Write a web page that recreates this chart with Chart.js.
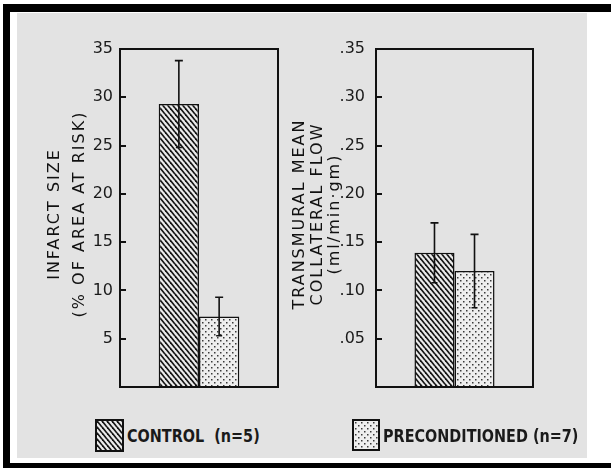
<!DOCTYPE html>
<html>
<head>
<meta charset="utf-8">
<script src="https://cdn.jsdelivr.net/npm/chart.js@4"></script>
<style>
  html, body { margin: 0; padding: 0; background: #fff; }
  #page { position: relative; width: 611px; height: 468px; overflow: hidden; }
  .edge { position: absolute; background: #000; }
  #panel { position: absolute; left: 17px; top: 13px; width: 570px; height: 445px; background: #e3e3e3; }
  canvas.chart { position: absolute; top: 0; }
  .key { position: absolute; top: 420px; display: flex; align-items: center; height: 30px; }
  .key canvas { box-sizing: border-box; border: 2px solid #111; margin-right: 3px; }
  .key span { display: inline-block; transform: scaleX(0.8); transform-origin: left center;
              font-family: 'DejaVu Sans', sans-serif; font-weight: bold; font-size: 18px;
              color: #1a1a1a; white-space: pre; }
</style>
</head>
<body>
<div id="page">
  <div class="edge" style="left:3px; top:4px; width:608px; height:8px"></div>
  <div class="edge" style="left:3px; top:4px; width:7px; height:464px"></div>
  <div class="edge" style="left:3px; top:463px; width:608px; height:5px"></div>
  <div id="panel"></div>
  <canvas id="infarct" class="chart" width="300" height="400" style="left:0"></canvas>
  <canvas id="flow" class="chart" width="341" height="400" style="left:270px"></canvas>
  <div class="key" style="left:95px"><canvas id="sw0" width="25" height="29"></canvas><span id="k0"></span></div>
  <div class="key" style="left:352px"><canvas id="sw1" width="24" height="28"></canvas><span id="k1"></span></div>
</div>
<script>
// groups and values
const groups = ["CONTROL  (n=5)", "PRECONDITIONED (n=7)"];
const infarctMean = [29.3, 7.3];
const infarctErr = [4.5, 2.0];
const flowMean = [0.139, 0.12];
const flowErr = [0.031, 0.038];

const infarctTicks = [5, 10, 15, 20, 25, 30, 35];
const infarctTickLabels = ["5", "10", "15", "20", "25", "30", "35"];
const flowTicks = [0.05, 0.1, 0.15, 0.2, 0.25, 0.3, 0.35];
const flowTickLabels = [".05", ".10", ".15", ".20", ".25", ".30", ".35"];

const infarctTitle = ["INFARCT SIZE", "(% OF AREA AT RISK)"];
const flowTitle = ["TRANSMURAL MEAN", "COLLATERAL FLOW", "(ml/min\u00b7gm)"];

// ---------- fill patterns ----------
function hatchPattern() {
  const c = document.createElement("canvas");
  c.width = 5; c.height = 6;
  const x = c.getContext("2d");
  x.fillStyle = "#ececec";
  x.fillRect(0, 0, 5, 6);
  x.strokeStyle = "#151515";
  x.lineWidth = 1.7;
  [[0, 0], [-5, 0], [5, 0], [0, -6], [0, 6]].forEach(([dx, dy]) => {
    x.beginPath();
    x.moveTo(dx, dy);
    x.lineTo(dx + 5, dy + 6);
    x.stroke();
  });
  return x.createPattern(c, "repeat");
}

function dotPattern() {
  const c = document.createElement("canvas");
  c.width = 6; c.height = 6;
  const x = c.getContext("2d");
  x.fillStyle = "#eeeeee";
  x.fillRect(0, 0, 6, 6);
  x.fillStyle = "#3a3a3a";
  x.fillRect(1, 1, 1.5, 1.5);
  x.fillRect(4, 4, 1.5, 1.5);
  return x.createPattern(c, "repeat");
}

const fills = [hatchPattern(), dotPattern()];

// ---------- frame, inward ticks, error bars, rotated titles ----------
const framePlugin = {
  id: "frame",
  afterDatasetsDraw(chart, args, opts) {
    const { ctx, chartArea: a, scales: { y } } = chart;
    ctx.save();
    ctx.strokeStyle = "#111";
    ctx.lineWidth = 2;
    ctx.strokeRect(a.left, a.top, a.right - a.left, a.bottom - a.top);

    y.ticks.forEach((t) => {
      if (!t.value) return;
      const py = Math.round(y.getPixelForValue(t.value));
      ctx.beginPath();
      ctx.moveTo(a.left, py);
      ctx.lineTo(a.left + 6, py);
      ctx.stroke();
    });

    ctx.lineWidth = 1.6;
    chart.data.datasets.forEach((ds, i) => {
      chart.getDatasetMeta(i).data.forEach((bar, j) => {
        const v = ds.data[j], e = ds.err[j];
        const hi = y.getPixelForValue(v + e), lo = y.getPixelForValue(v - e);
        ctx.beginPath();
        ctx.moveTo(bar.x, hi); ctx.lineTo(bar.x, lo);
        ctx.moveTo(bar.x - 4, hi); ctx.lineTo(bar.x + 4, hi);
        ctx.moveTo(bar.x - 3, lo); ctx.lineTo(bar.x + 3, lo);
        ctx.stroke();
      });
    });

    ctx.fillStyle = "#111";
    ctx.font = "16px 'DejaVu Sans'";
    ctx.letterSpacing = opts.spacing;
    ctx.textAlign = "center";
    ctx.textBaseline = "middle";
    const midY = (a.top + a.bottom) / 2 - 4;
    opts.lines.forEach((line, i) => {
      ctx.save();
      ctx.translate(opts.xs[i], midY);
      ctx.rotate(-Math.PI / 2);
      ctx.fillText(line, 0, 0);
      ctx.restore();
    });
    ctx.restore();
  },
};

function makeChart(id, means, errs, ticks, tickLabels, axisWidth, pad, tickPad, title) {
  return new Chart(document.getElementById(id), {
    type: "bar",
    data: {
      labels: [""],
      datasets: groups.map((g, i) => ({
        label: g,
        data: [means[i]],
        err: [errs[i]],
        backgroundColor: fills[i],
        borderColor: "#111",
        borderWidth: 1.5,
      })),
    },
    options: {
      responsive: false,
      animation: false,
      events: [],
      layout: { padding: pad },
      datasets: { bar: { categoryPercentage: 0.51, barPercentage: 1 } },
      plugins: { legend: { display: false }, tooltip: { enabled: false }, frame: title },
      scales: {
        x: { display: false },
        y: {
          min: 0,
          max: ticks[ticks.length - 1],
          afterBuildTicks: (s) => { s.ticks = [0, ...ticks].map((v) => ({ value: v })); },
          afterFit: (s) => {
            s.width = axisWidth;
            s.paddingTop = 0;
            s.paddingBottom = 0;
          },
          grid: { display: false, drawTicks: false },
          border: { display: false },
          ticks: {
            padding: tickPad,
            color: "#1a1a1a",
            font: { family: "DejaVu Sans", size: 16 },
            callback: (v) => {
              const k = ticks.indexOf(v);
              return k < 0 ? "" : tickLabels[k];
            },
          },
        },
      },
    },
    plugins: [framePlugin],
  });
}

makeChart("infarct", infarctMean, infarctErr, infarctTicks, infarctTickLabels, 120,
  { left: 0, top: 49, right: 22, bottom: 13 }, 7,
  { lines: infarctTitle, xs: [55, 80], spacing: "2px" });

makeChart("flow", flowMean, flowErr, flowTicks, flowTickLabels, 106,
  { left: 0, top: 49, right: 78, bottom: 13 }, 11,
  { lines: flowTitle, xs: [30, 48, 65], spacing: "2px" });

// ---------- legend ----------
groups.forEach((g, i) => {
  const sw = document.getElementById("sw" + i);
  const c = sw.getContext("2d");
  c.fillStyle = fills[i];
  c.fillRect(0, 0, sw.width, sw.height);
  document.getElementById("k" + i).textContent = g;
});
</script>
</body>
</html>
